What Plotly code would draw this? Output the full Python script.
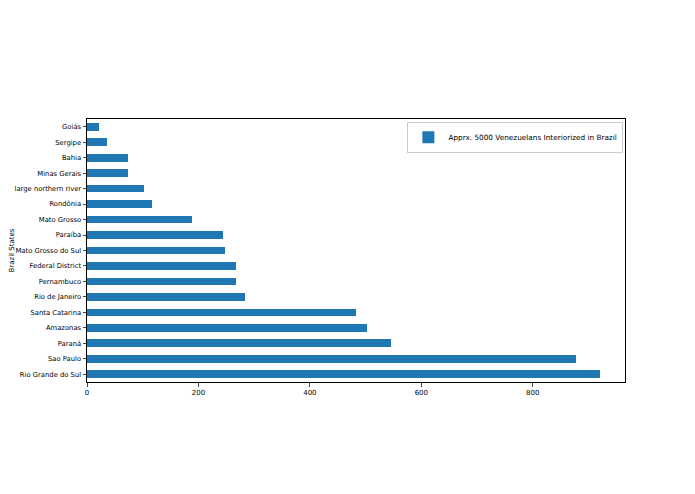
from plotly import graph_objects as go

states = ["Rio Grande do Sul", "Sao Paulo", "Paraná", "Amazonas", "Santa Catarina",
          "Rio de Janeiro", "Pernambuco", "Federal District", "Mato Grosso do Sul",
          "Paraíba", "Mato Grosso", "Rondônia", "large northern river", "Minas Gerais",
          "Bahia", "Sergipe", "Goiás"]
people = [920, 878, 545, 503, 482, 283, 268, 267, 248, 244, 189, 117, 102, 74, 74, 35, 21]
xticks = [0, 200, 400, 600, 800]

fig = go.Figure()
fig.add_trace(go.Bar(
    x=people,
    y=states,
    orientation="h",
    width=0.5,
    marker_color="#1f77b4",
    marker_line_width=0,
    name="Apprx. 5000 Venezuelans Interiorized in Brazil"
))

# page body adds ~8px offset, so margins are shifted to compensate
fig.update_layout(
    width=695, height=494,
    margin=dict(l=79, r=78, t=111, b=120),
    plot_bgcolor="white", paper_bgcolor="white",
    font=dict(family="DejaVu Sans", size=7, color="black"),
    showlegend=True,
    legend=dict(x=0.997, y=0.99, xanchor="right", yanchor="top",
                bordercolor="#cccccc", borderwidth=1, bgcolor="white",
                font=dict(size=7.3), itemwidth=30, tracegroupgap=0),
    bargap=0,
)
fig.update_xaxes(range=[0, 965.5], tickvals=xticks, ticks="outside", ticklen=3.5,
                 showgrid=False, zeroline=False, showline=True, linecolor="black",
                 linewidth=1, mirror=True, automargin=False)
fig.update_yaxes(range=[-0.5, 16.5], ticks="outside", ticklen=3.5, showgrid=False,
                 showline=True, linecolor="black", linewidth=1, mirror=True,
                 automargin=False, type="category", tickfont=dict(size=6.8))

# y axis title placed by hand at the far left edge
fig.add_annotation(text="Brazil States", xref="paper", yref="paper",
                   x=-81 / 538, y=0.5, xanchor="left", yanchor="middle",
                   textangle=-90, showarrow=False, borderpad=0,
                   font=dict(size=7))

fig.write_html("out.html")
